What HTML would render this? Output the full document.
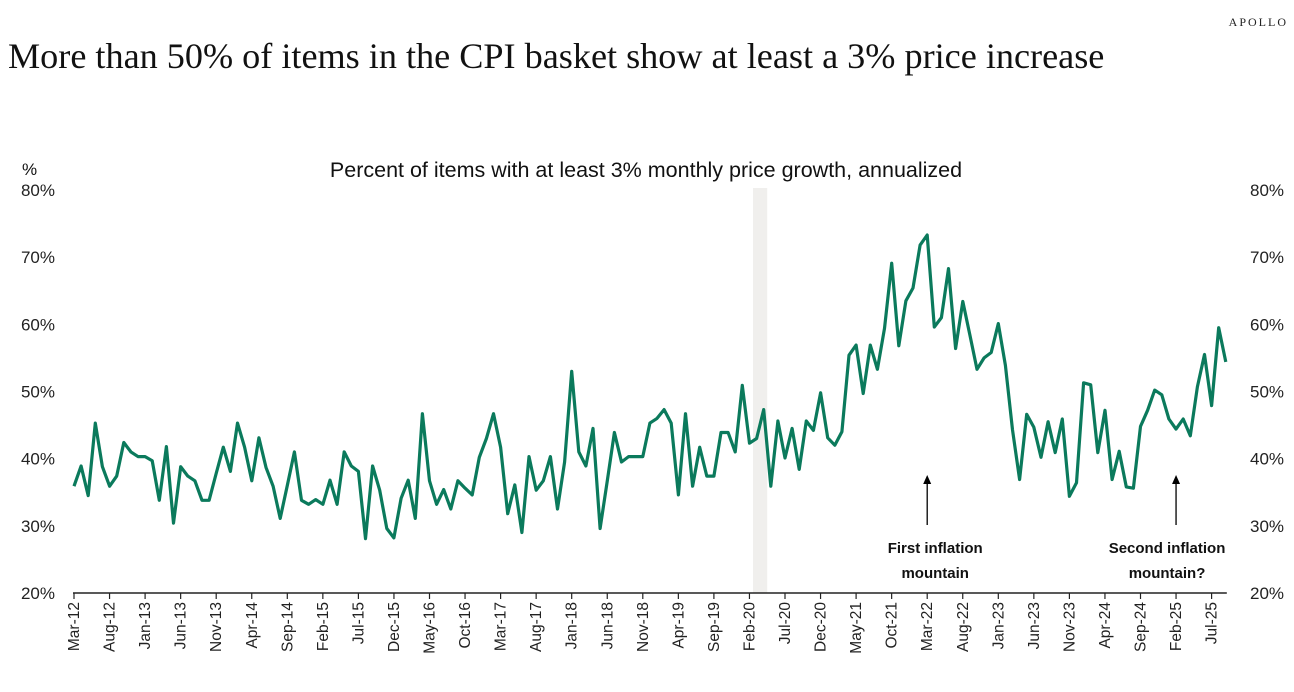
<!DOCTYPE html>
<html><head><meta charset="utf-8"><style>
body{margin:0;background:#fff;}
svg{display:block;font-family:"Liberation Sans",sans-serif;}
</style></head><body>
<svg width="1294" height="692" id="chart">
<text x="1288" y="26" text-anchor="end" font-family="Liberation Serif,serif" font-size="12" letter-spacing="2" fill="#222">APOLLO</text>
<text x="8" y="68" font-family="Liberation Serif,serif" font-size="36.2" fill="#111">More than 50% of items in the CPI basket show at least a 3% price increase</text>
<text x="646" y="177" text-anchor="middle" font-size="21.5" fill="#111">Percent of items with at least 3% monthly price growth, annualized</text>
<text x="22" y="175" font-size="17" fill="#111">%</text>
<g id="plot"></g>
</svg>
<script>
const values=[35.9,38.9,34.5,45.3,38.8,35.9,37.4,42.4,41.0,40.3,40.3,39.7,33.8,41.8,30.4,38.8,37.4,36.7,33.8,33.8,37.8,41.7,38.1,45.3,41.7,36.7,43.1,38.7,35.9,31.1,36.0,41.0,33.8,33.2,33.9,33.2,36.8,33.2,41.0,38.9,38.1,28.1,38.9,35.3,29.6,28.2,34.1,36.8,31.1,46.7,36.7,33.2,35.4,32.5,36.7,
35.6,34.6,40.2,43.0,46.7,41.7,31.8,36.1,29.0,40.3,35.3,36.7,40.3,32.5,39.5,53.0,41.0,38.9,44.5,29.6,36.7,43.9,39.5,40.3,40.3,40.3,45.3,46.0,47.3,45.3,34.6,46.7,35.9,41.7,37.4,37.4,43.9,43.9,41.0,50.9,42.3,43.0,47.3,35.9,45.6,40.1,44.5,38.4,45.6,44.2,49.8,43.1,42.0,
44.0,55.4,56.9,49.7,56.9,53.3,59.4,69.1,56.8,63.5,65.4,71.8,73.3,59.6,61.0,68.3,56.4,63.4,58.4,53.3,55.0,55.8,60.1,53.9,44.3,36.9,46.6,44.7,40.2,45.5,40.9,45.9,34.4,36.4,51.3,51.0,40.9,47.2,36.9,41.1,35.8,35.6,44.8,47.2,50.2,49.5,45.9,44.4,45.9,43.4,50.7,55.5,47.9,59.5,54.4];
const tickLabels=["Mar-12","Aug-12","Jan-13","Jun-13","Nov-13","Apr-14","Sep-14","Feb-15","Jul-15","Dec-15","May-16","Oct-16","Mar-17","Aug-17","Jan-18","Jun-18","Nov-18","Apr-19","Sep-19","Feb-20","Jul-20","Dec-20","May-21","Oct-21","Mar-22","Aug-22","Jan-23","Jun-23","Nov-23","Apr-24","Sep-24","Feb-25","Jul-25"];
const yTicks=[20,30,40,50,60,70,80];
const recession=[95.5,97.5];
const annotations=[{i:120,dx:8,lines:["First inflation","mountain"]},{i:155,dx:-9,lines:["Second inflation","mountain?"]}];
const NS="http://www.w3.org/2000/svg";
const g=document.getElementById('plot');
const X=i=>74+i*7.11;
const Y=v=>593-(v-20)*6.717;
function el(t,a,txt){const e=document.createElementNS(NS,t);for(const k in a)e.setAttribute(k,a[k]);if(txt!==undefined)e.textContent=txt;g.appendChild(e);return e;}
const rec=el('rect',{x:X(recession[0]),y:188,width:X(recession[1])-X(recession[0]),height:405,fill:'#f0efed'});


yTicks.forEach(v=>{
 const l=el('text',{x:55,y:Y(v)+6,'text-anchor':'end','font-size':17,fill:'#222'},v+'%');
 
 
 const r=el('text',{x:1250,y:Y(v)+6,'font-size':17,fill:'#222'},v+'%');
 
 
});
const ax=el('line',{x1:X(0)-1,x2:X(162)+1,y1:593,y2:593,stroke:'#222','stroke-width':1.5});


tickLabels.forEach((t,k)=>{
 const x=X(k*5);
 const tk=el('line',{x1:x,x2:x,y1:593,y2:599,stroke:'#222','stroke-width':1.2});
 
 
 const tx=el('text',{transform:`translate(${x+5},602) rotate(-90)`,'text-anchor':'end','font-size':15.5,fill:'#222'},t);
 
 
});
const line=el('polyline',{points:values.map((v,i)=>X(i).toFixed(1)+','+Y(v).toFixed(1)).join(' '),fill:'none',stroke:'#0b7a5c','stroke-width':3.2,'stroke-linejoin':'round'});


annotations.forEach(a=>{
 const x=X(a.i);
 const ar=el('line',{x1:x,x2:x,y1:525,y2:482,stroke:'#000','stroke-width':1.3});
 
 
 const hd=el('polygon',{points:`${x-4},484 ${x+4},484 ${x},475`,fill:'#000'});
 
 
 a.lines.forEach((s,j)=>{
  const t=el('text',{x:x+a.dx,y:553+j*25,'text-anchor':'middle','font-size':15,'font-weight':'bold',fill:'#111'},s);
  
  
 });
});
</script>
</body></html>
